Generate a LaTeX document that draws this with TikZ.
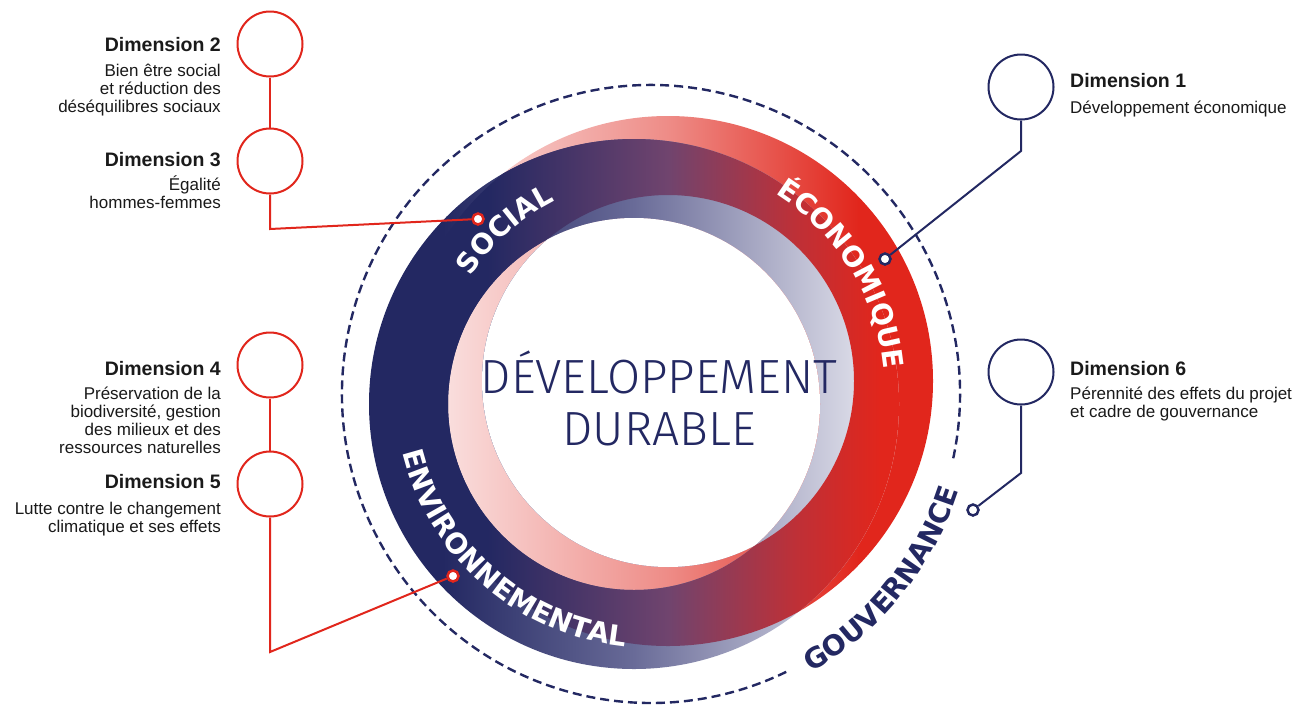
\documentclass[tikz,border=0pt]{standalone}
\usepackage{fontspec}
\setmainfont{Liberation Sans}
\newfontfamily\ringfont{DejaVu Sans}
\newfontfamily\thinfont{Fira Sans Light}
\usetikzlibrary{decorations.text}
\definecolor{navy}{RGB}{35,40,98}
\definecolor{ered}{RGB}{225,38,28}
\definecolor{ink}{RGB}{26,26,26}
\definecolor{pinkL}{RGB}{252,238,238}
\definecolor{pinkM}{RGB}{238,140,135}
\definecolor{greyL}{RGB}{240,240,246}
\definecolor{greyM}{RGB}{105,107,152}
\definecolor{bandmid}{RGB}{112,68,110}
\definecolor{bandred}{RGB}{190,48,55}
\pgfdeclarehorizontalshading{bandsh}{100bp}{color(0bp)=(navy); color(25bp)=(navy); color(33bp)=(navy); color(50bp)=(bandmid); color(62bp)=(bandred); color(70bp)=(ered); color(100bp)=(ered)}
\pgfdeclarehorizontalshading{pinksh}{100bp}{color(0bp)=(pinkL); color(25bp)=(pinkL); color(50bp)=(pinkM); color(68bp)=(ered); color(100bp)=(ered)}
\pgfdeclarehorizontalshading{greysh}{100bp}{color(0bp)=(navy); color(25bp)=(navy); color(32bp)=(navy); color(50bp)=(greyM); color(75bp)=(greyL); color(100bp)=(greyL)}
\newcommand\rfont{\ringfont\bfseries\fontsize{28}{30}\selectfont}
\begin{document}
\begin{tikzpicture}[x=1pt,y=1pt,
  redline/.style={draw=ered,line width=2pt},
  navline/.style={draw=navy,line width=2pt},
  dimcirc/.style={circle,minimum size=65pt,inner sep=0pt,line width=2pt,fill=white},
  dotnode/.style={circle,minimum size=11pt,inner sep=0pt,line width=2.5pt,fill=white},
  dimtitle/.style={font=\bfseries\fontsize{19.5}{22}\selectfont,text=ink,inner sep=0pt},
  dimbody/.style={font=\fontsize{17}{18}\selectfont,text=ink,inner sep=0pt},
  ringtext/.style={decorate,decoration={text along path,text={|\rfont|#1},text align=center,text color=white}},
  govtext/.style={decorate,decoration={text along path,text={|\rfont|#1},text align=center,text color=navy}},
  dashring/.style={draw=navy,line width=2.4pt,dash pattern=on 9pt off 5pt}
]
\fill[white] (0,0) rectangle (1301,-705);
\useasboundingbox (0,0) rectangle (1301,-705);

% dashed governance circle
\draw[dashring] (651,-394) ++(-12:309) arc[start angle=-12,end angle=296,radius=309];

% ring P (pink -> red)
\shade[even odd rule,shading=pinksh] (668,-381) circle (265) (668,-381) circle (186);
% ring N (navy -> light grey)
\shade[even odd rule,shading=greysh] (634,-404) circle (265) (634,-404) circle (186);
% overlapping band (navy -> red)
\begin{scope}
  \clip (668,-381) circle (265);
  \clip (634,-404) circle (265);
  \shade[even odd rule,shading=bandsh]
    (668,-381) circle (265) (668,-381) circle (186) (634,-404) circle (186);
\end{scope}
\begin{scope}
  \clip (668,-381) circle (186);
  \fill[white] (634,-404) circle (186);
\end{scope}

% texts along the ring
\path[ringtext=SOCIAL] (651,-392) ++(172:214) arc[start angle=172,end angle=92,radius=214];
\path[ringtext=ÉCONOMIQUE] (651,-392) ++(91.7:234) arc[start angle=91.7,end angle=-28.3,radius=234];
\path[ringtext=ENVIRONNEMENTAL] (651,-392) ++(159:256) arc[start angle=159,end angle=299,radius=256];
\path[govtext=GOUVERNANCE] (651,-392) ++(281:323) arc[start angle=281,end angle=361,radius=323];

% centre title (base = last line)
\node[font=\thinfont\fontsize{48}{52}\selectfont,text=navy,align=center,anchor=base,inner sep=0pt] (dd) at (659,-445) {DÉVELOPPEMENT\\DURABLE};

% dimension circles
\node[dimcirc,draw=ered] (c2) at (270,-44) {};
\node[dimcirc,draw=ered] (c3) at (270,-161) {};
\node[dimcirc,draw=ered] (c4) at (270,-365) {};
\node[dimcirc,draw=ered] (c5) at (270,-484) {};
\node[dimcirc,draw=navy] (c1) at (1021,-87) {};
\node[dimcirc,draw=navy] (c6) at (1021,-372) {};

% anchor dots on the ring
\node[dotnode,draw=ered] (dS) at (478,-219) {};
\node[dotnode,draw=ered] (dE) at (453,-576) {};
\node[dotnode,draw=navy] (dC) at (885,-259) {};
\node[dotnode,draw=navy] (dG) at (973,-510) {};

% bends
\coordinate (k3) at (270,-229);
\coordinate (k5) at (270,-652);
\coordinate (k1) at (1021,-151);
\coordinate (k6) at (1021,-473);

% connectors
\draw[redline] (c2) -- (c3);
\draw[redline] (c3) -- (k3) -- (dS);
\draw[redline] (c4) -- (c5);
\draw[redline] (c5) -- (k5) -- (dE);
\draw[navline] (c1) -- (k1) -- (dC);
\draw[navline] (c6) -- (k6) -- (dG);

% labels (multi-line nodes: base anchor = last line)
\node[dimtitle,anchor=base east] (t2) at (221,-51) {Dimension 2};
\node[dimbody,align=right,anchor=base east] (b2) at (221,-112) {Bien être social\\et réduction des\\déséquilibres sociaux};
\node[dimtitle,anchor=base east] (t3) at (221,-166) {Dimension 3};
\node[dimbody,align=right,anchor=base east] (b3) at (221,-208) {Égalité\\hommes-femmes};
\node[dimtitle,anchor=base east] (t4) at (221,-375) {Dimension 4};
\node[dimbody,align=right,anchor=base east] (b4) at (221,-453) {Préservation de la\\biodiversité, gestion\\des milieux et des\\ressources naturelles};
\node[dimtitle,anchor=base east] (t5) at (221,-488) {Dimension 5};
\node[dimbody,align=right,anchor=base east] (b5) at (221,-532) {Lutte contre le changement\\climatique et ses effets};
\node[dimtitle,anchor=base west] (t1) at (1070,-87) {Dimension 1};
\node[dimbody,align=left,anchor=base west] (b1) at (1070,-113) {Développement économique};
\node[dimtitle,anchor=base west] (t6) at (1070,-375) {Dimension 6};
\node[dimbody,align=left,anchor=base west] (b6) at (1070,-417) {Pérennité des effets du projet\\et cadre de gouvernance};
\end{tikzpicture}
\end{document}
